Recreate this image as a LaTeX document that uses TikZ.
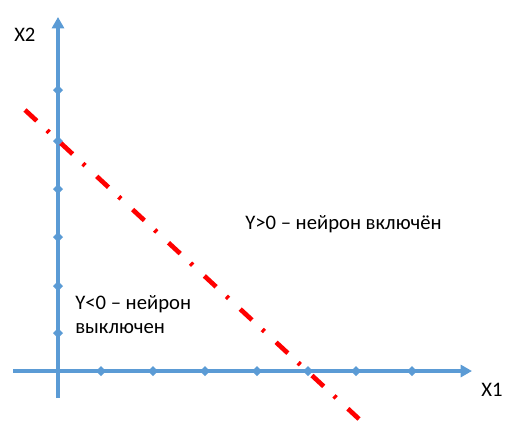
\documentclass[tikz,border=0pt]{standalone}
\usepackage{fontspec}
\setmainfont{Carlito}
\usetikzlibrary{arrows.meta}
\definecolor{axisblue}{HTML}{5B9BD5}
\tikzset{
  axisline/.style={axisblue,line width=3pt,-{Triangle[length=8.5pt,width=9pt]}},
  tickmark/.style={fill=axisblue},
  border/.style={red,line width=3.5pt,dash pattern=on 12pt off 10.5pt on 2.25pt off 11.9pt},
  lbl/.style={inner sep=0pt,anchor=base west,font=\fontsize{15.5pt}{18pt}\selectfont}
}
\begin{document}
\begin{tikzpicture}[x=0.75pt,y=-0.75pt]
\useasboundingbox (0,0) rectangle (520,436);
% axes
\coordinate (xs) at (13,371);
\coordinate (xe) at (472,371);
\coordinate (ys) at (58,398);
\coordinate (ye) at (58,17);
\draw[axisline] (xs) -- (xe);
\draw[axisline] (ys) -- (ye);
% tick marks
\foreach \t in {101,153,205,257,308,356,412}
  \fill[tickmark] (\t,371) +(-5,0) -- +(0,-5) -- +(5,0) -- +(0,5) -- cycle;
\foreach \t in {90,141,189,237,286,333}
  \fill[tickmark] (58,\t) +(-5,0) -- +(0,-5) -- +(5,0) -- +(0,5) -- cycle;
% separating line
\coordinate (la) at (25,110);
\coordinate (lb) at (359,419);
\draw[border] (la) -- (lb);
% labels
\node[lbl] (xtwo) at (14,41) {X2};
\node[lbl] (xone) at (481,396) {X1};
\node[lbl] (on) at (245,229) {Y>0 – нейрон включён};
\node[lbl] (offa) at (75,309) {Y<0 – нейрон};
\node[lbl] (offb) at (75,333) {выключен};
\end{tikzpicture}
\end{document}
